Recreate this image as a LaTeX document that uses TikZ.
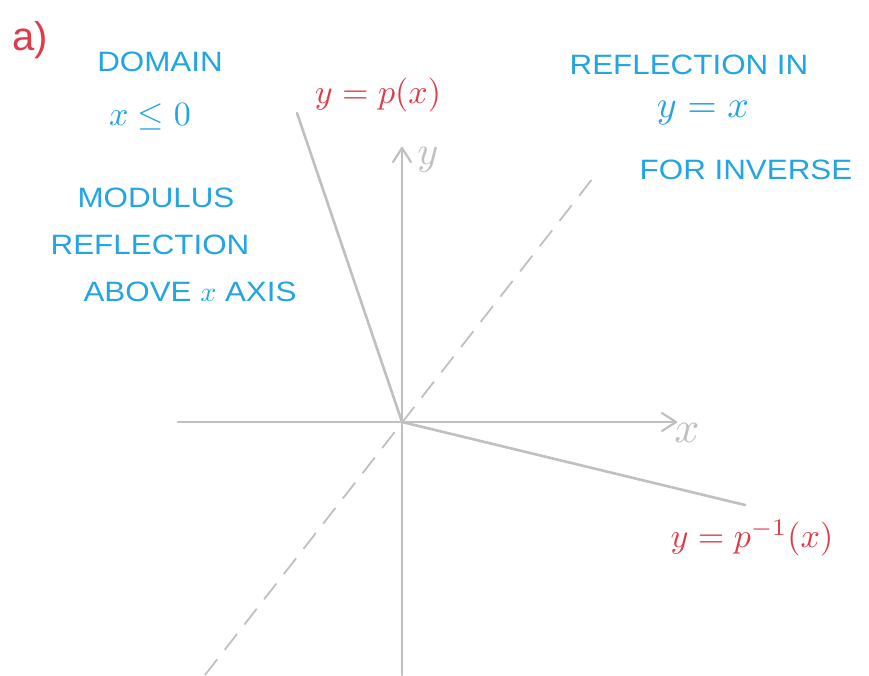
\documentclass[tikz,border=0pt]{standalone}
\usepackage{graphicx}
\usepackage{fontspec}
\setmainfont{Liberation Sans}
\newfontfamily\handfont[FakeStretch=1.12]{Liberation Sans}
\usetikzlibrary{arrows.meta}
\definecolor{hblue}{RGB}{35,165,225}
\definecolor{hred}{RGB}{222,60,72}
\definecolor{hgray}{RGB}{192,192,192}
\newcommand{\hmath}[2]{\scalebox{#1}{\fontsize{10}{12}\selectfont$#2$}}
\begin{document}
\begin{tikzpicture}[x=1pt,y=-1pt,
  axis/.style={draw=hgray,line width=2.2pt,line cap=round},
  graphline/.style={draw=hgray,line width=2.6pt,line cap=round},
  diag/.style={draw=hgray,line width=1.8pt,dash pattern=on 20pt off 12pt},
  note/.style={text=hblue,font=\handfont\fontsize{28}{32}\selectfont,inner sep=0pt,align=center},
  rlabel/.style={text=hred,font=\fontsize{40}{44}\selectfont,inner sep=0pt},
  glabel/.style={text=hgray,inner sep=0pt}]
\useasboundingbox (0,0) rectangle (869,675);
\fill[white] (0,0) rectangle (869,675);
% axes
\coordinate (O) at (402,422);
\coordinate (ytop) at (402,148);
\coordinate (ybot) at (402,675);
\coordinate (xl) at (178,422);
\coordinate (xr) at (676,422);
\draw[axis] (ybot) -- (ytop);
\draw[axis] (ytop) -- ++(-9,14);
\draw[axis] (ytop) -- ++(9,14);
\draw[axis] (xl) -- (xr);
\draw[axis] (xr) -- ++(-14,-9);
\draw[axis] (xr) -- ++(-14,9);
% dashed y=x
\coordinate (d1) at (205,675);
\coordinate (d2) at (593,178);
\draw[diag] (d1) -- (d2);
% graphs
\coordinate (p1) at (297,113);
\coordinate (q1) at (745,505);
\draw[graphline] (p1) -- (O) -- (q1);
% labels
\node[rlabel] (a) at (30,40) {a)};
\node[note] (dom) at (160,62) {DOMAIN};
\node[note] (dx) at (150,117) {\hmath{3.4}{x\leq 0}};
\node[note] (mod) at (156,198) {MODULUS};
\node[note] (refl) at (150,245) {REFLECTION};
\node[note] (abv) at (190,292) {ABOVE \hmath{2.8}{x} AXIS};
\node[note] (rin) at (689,65) {REFLECTION IN};
\node[note] (yx) at (703,113) {\hmath{3.8}{y=x}};
\node[note] (finv) at (746,170) {FOR INVERSE};
\node[rlabel] (py) at (378,95) {\hmath{3.4}{y=p(x)}};
\node[rlabel] (pinv) at (752,538) {\hmath{3.4}{y=p^{-1}(x)}};
\node[glabel] (ylab) at (428,160) {\hmath{4}{y}};
\node[glabel] (xlab) at (687,433) {\hmath{4.4}{x}};
\end{tikzpicture}
\end{document}
